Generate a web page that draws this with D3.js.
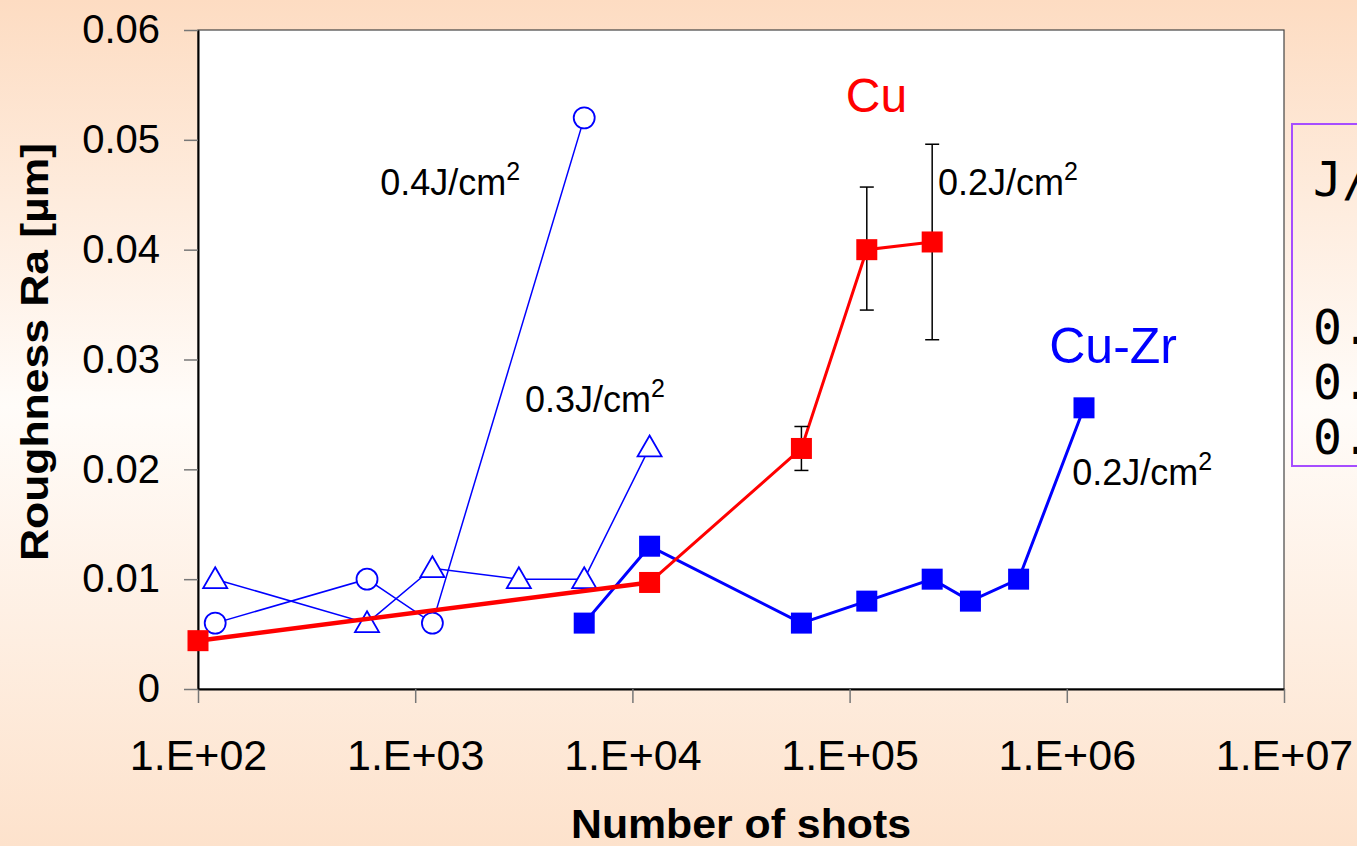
<!DOCTYPE html>
<html lang="en">
<head>
    <meta charset="UTF-8">
    <title>Roughness vs shots</title>
    <script type="text/javascript" src="https://cdn.jsdelivr.net/npm/d3@7/dist/d3.min.js"></script>
    <style>
        body { margin: 0; overflow: hidden; }
        .axis text {
            font-family: "Liberation Sans", Arial, sans-serif;
            fill: black;
        }
        .axis .domain { stroke: black; stroke-width: 2; }
        .axis line { stroke: #777; stroke-width: 1.5; }
        .ann { font-family: "Liberation Sans", Arial, sans-serif; }
    </style>
</head>
<body>
    <script type="text/javascript">
        // axis ticks
        let xTicks = [1e2, 1e3, 1e4, 1e5, 1e6, 1e7]
        let xTickLabels = ["1.E+02", "1.E+03", "1.E+04", "1.E+05", "1.E+06", "1.E+07"]
        let yTicks = [0, 0.01, 0.02, 0.03, 0.04, 0.05, 0.06]
        let yTickLabels = ["0", "0.01", "0.02", "0.03", "0.04", "0.05", "0.06"]

        // 0.4 J/cm2 (open circles)
        let shots04 = [120, 600, 1200, 6000]
        let ra04 = [0.006, 0.010, 0.006, 0.052]

        // 0.3 J/cm2 (open triangles)
        let shots03 = [120, 600, 1200, 3000, 6000, 12000]
        let ra03 = [0.010, 0.006, 0.011, 0.010, 0.010, 0.022]

        // Cu, 0.2 J/cm2
        let shotsCu = [100, 12000, 60000, 120000, 240000]
        let raCu = [0.0044, 0.0097, 0.0219, 0.0400, 0.0407]
        let errLowCu = [null, null, 0.0199, 0.0345, 0.0318]
        let errHighCu = [null, null, 0.0239, 0.0457, 0.0496]

        // Cu-Zr, 0.2 J/cm2
        let shotsCuZr = [6000, 12000, 60000, 120000, 240000, 360000, 600000, 1200000]
        let raCuZr = [0.006, 0.013, 0.006, 0.008, 0.010, 0.008, 0.010, 0.0256]

        let legendTitle = "J/"
        let legendRows = ["0.", "0.", "0."]

        let w = 1357, h = 846
        let pLeft = 198, pRight = 1284, pTop = 30, pBottom = 689

        let xScale = d3.scaleLog().domain([1e2, 1e7]).range([pLeft, pRight])
        let yScale = d3.scaleLinear().domain([0, 0.06]).range([pBottom, pTop])

        let svg = d3.select("body")
            .append("svg")
            .attr("width", w)
            .attr("height", h)

        let grad = svg.append("defs").append("linearGradient")
            .attr("id", "bg").attr("x1", 0).attr("y1", 0).attr("x2", 0).attr("y2", 1)
        grad.append("stop").attr("offset", "0%").attr("stop-color", "#fddcc2")
        grad.append("stop").attr("offset", "48%").attr("stop-color", "#fffcf9")
        grad.append("stop").attr("offset", "100%").attr("stop-color", "#fde2cc")

        svg.append("rect").attr("width", w).attr("height", h).attr("fill", "url(#bg)")

        // plot area
        svg.append("rect")
            .attr("x", pLeft).attr("y", pTop)
            .attr("width", pRight - pLeft).attr("height", pBottom - pTop)
            .attr("fill", "white")
            .attr("stroke", "#444").attr("stroke-width", 1.2)

        let xAxis = d3.axisBottom(xScale)
            .tickValues(xTicks)
            .tickFormat((d, i) => xTickLabels[i])
            .tickSize(14).tickSizeOuter(0).tickPadding(36)

        let yAxis = d3.axisLeft(yScale)
            .tickValues(yTicks)
            .tickFormat((d, i) => yTickLabels[i])
            .tickSize(14).tickSizeOuter(0).tickPadding(24)

        let gx = svg.append("g")
            .attr("class", "axis")
            .attr("transform", "translate(0," + pBottom + ")")
            .call(xAxis)
        gx.selectAll("text").attr("font-size", "43px")

        let gy = svg.append("g")
            .attr("class", "axis")
            .attr("transform", "translate(" + pLeft + ", 0)")
            .call(yAxis)
        gy.selectAll("text").attr("font-size", "40px")

        let line = d3.line().x((d) => xScale(d[0])).y((d) => yScale(d[1]))
        let zip = (a, b) => a.map((v, i) => [v, b[i]])

        let blue = "#0000ff", red = "#ff0000"

        // open series
        let d04 = zip(shots04, ra04), d03 = zip(shots03, ra03)
        svg.append("path").datum(d03).attr("d", line)
            .attr("fill", "none").attr("stroke", blue).attr("stroke-width", 1.5)
        svg.append("path").datum(d04).attr("d", line)
            .attr("fill", "none").attr("stroke", blue).attr("stroke-width", 1.5)

        svg.selectAll(".circ")
            .data(d04).enter().append("circle")
            .attr("cx", (d) => xScale(d[0])).attr("cy", (d) => yScale(d[1]))
            .attr("r", 10.5)
            .attr("fill", "white").attr("stroke", blue).attr("stroke-width", 1.8)

        let tri = d3.symbol().type(d3.symbolTriangle).size(250)
        svg.selectAll(".tri")
            .data(d03).enter().append("path")
            .attr("d", tri)
            .attr("transform", (d) => "translate(" + xScale(d[0]) + "," + (yScale(d[1]) + 2) + ")")
            .attr("fill", "white").attr("stroke", blue).attr("stroke-width", 1.8)

        // Cu-Zr
        let dCuZr = zip(shotsCuZr, raCuZr)
        svg.append("path").datum(dCuZr).attr("d", line)
            .attr("fill", "none").attr("stroke", blue).attr("stroke-width", 3)
        svg.selectAll(".sqb")
            .data(dCuZr).enter().append("rect")
            .attr("x", (d) => xScale(d[0]) - 10.5).attr("y", (d) => yScale(d[1]) - 10.5)
            .attr("width", 21).attr("height", 21)
            .attr("fill", blue)

        // Cu
        let dCu = zip(shotsCu, raCu)
        svg.append("path").datum(dCu.slice(0, 2)).attr("d", line)
            .attr("fill", "none").attr("stroke", red).attr("stroke-width", 4.5)
        svg.append("path").datum(dCu.slice(1)).attr("d", line)
            .attr("fill", "none").attr("stroke", red).attr("stroke-width", 3)

        let errs = shotsCu.map((s, i) => [s, errLowCu[i], errHighCu[i]]).filter((d) => d[1] != null)
        let eg = svg.selectAll(".err").data(errs).enter().append("g")
            .attr("stroke", "black").attr("stroke-width", 1.5)
        eg.append("line")
            .attr("x1", (d) => xScale(d[0])).attr("x2", (d) => xScale(d[0]))
            .attr("y1", (d) => yScale(d[1])).attr("y2", (d) => yScale(d[2]))
        eg.append("line")
            .attr("x1", (d) => xScale(d[0]) - 7).attr("x2", (d) => xScale(d[0]) + 7)
            .attr("y1", (d) => yScale(d[1])).attr("y2", (d) => yScale(d[1]))
        eg.append("line")
            .attr("x1", (d) => xScale(d[0]) - 7).attr("x2", (d) => xScale(d[0]) + 7)
            .attr("y1", (d) => yScale(d[2])).attr("y2", (d) => yScale(d[2]))

        svg.selectAll(".sqr")
            .data(dCu).enter().append("rect")
            .attr("x", (d) => xScale(d[0]) - 10.5).attr("y", (d) => yScale(d[1]) - 10.5)
            .attr("width", 21).attr("height", 21)
            .attr("fill", red)

        // annotations
        function fluence(xv, yv, txt) {
            let t = svg.append("text").attr("class", "ann")
                .attr("x", xScale(xv)).attr("y", yScale(yv))
                .attr("font-size", "36px").attr("fill", "black")
            t.append("tspan").text(txt)
            t.append("tspan").attr("font-size", "25px").attr("dy", -15).text("2")
        }
        fluence(690, 0.045, "0.4J/cm")
        fluence(3200, 0.0252, "0.3J/cm")
        fluence(2.55e5, 0.045, "0.2J/cm")
        fluence(1.06e6, 0.0186, "0.2J/cm")

        svg.append("text").attr("class", "ann")
            .attr("x", xScale(9.6e4)).attr("y", yScale(0.0525))
            .attr("font-size", "48px").attr("fill", red).text("Cu")
        svg.append("text").attr("class", "ann")
            .attr("x", xScale(8.3e5)).attr("y", yScale(0.0297))
            .attr("font-size", "50px").attr("fill", blue).text("Cu-Zr")

        // axis titles
        svg.append("text").attr("class", "ann")
            .attr("x", 741).attr("y", 838)
            .attr("text-anchor", "middle")
            .attr("font-size", "40px").attr("font-weight", "bold")
            .attr("textLength", 340).attr("lengthAdjust", "spacingAndGlyphs")
            .text("Number of shots")

        svg.append("text").attr("class", "ann")
            .attr("transform", "translate(48,352) rotate(-90)")
            .attr("text-anchor", "middle")
            .attr("font-size", "38px").attr("font-weight", "bold")
            .attr("textLength", 418).attr("lengthAdjust", "spacingAndGlyphs")
            .text("Roughness Ra [µm]")

        // legend box (cut off at the right edge, as in the source slide)
        svg.append("rect")
            .attr("x", 1292).attr("y", 124)
            .attr("width", 120).attr("height", 342)
            .attr("fill", "none").attr("stroke", "#a64dff").attr("stroke-width", 2)
        let lg = svg.append("g")
            .attr("font-family", "'DejaVu Sans Mono', monospace")
            .attr("font-size", "48px").attr("fill", "black")
        lg.append("text").attr("x", 1313).attr("y", 196).text(legendTitle)
        lg.selectAll(".row").data(legendRows).enter().append("text")
            .attr("x", 1313).attr("y", (d, i) => 344 + i * 55).text((d) => d)
    </script>
</body>
</html>
